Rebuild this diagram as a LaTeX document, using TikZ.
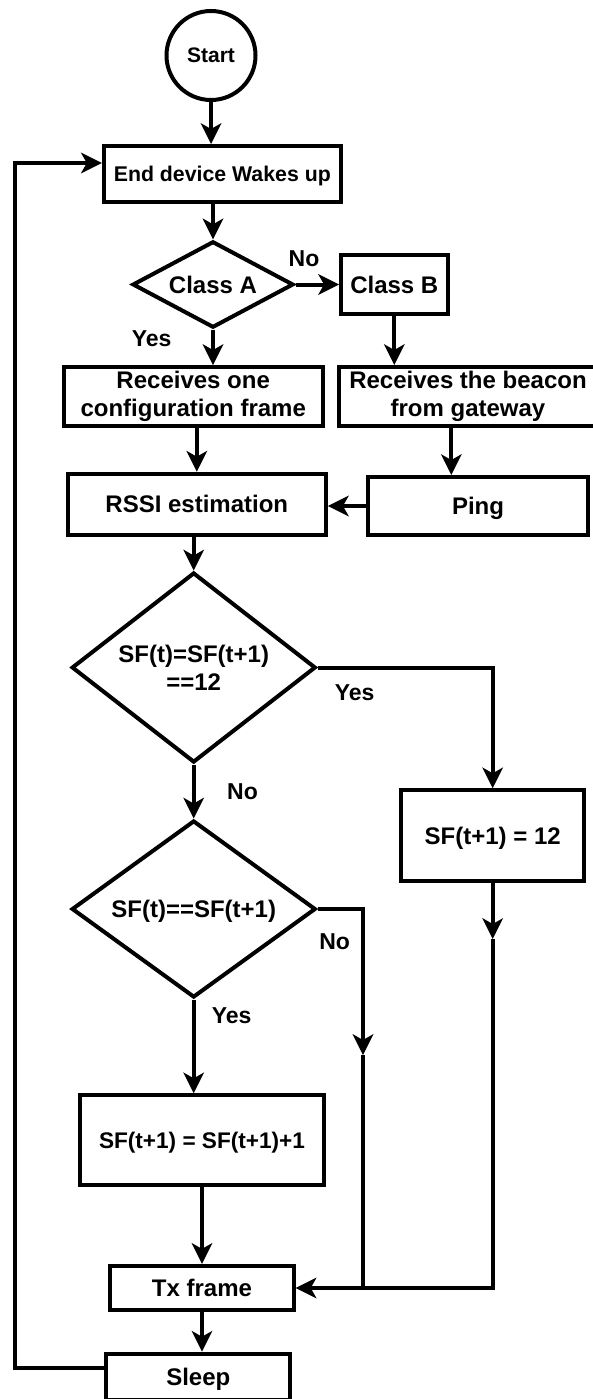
\documentclass[tikz,border=0pt]{standalone}
\usepackage{fontspec}
\setmainfont{Liberation Sans}
\usetikzlibrary{arrows.meta,shapes.geometric}
\newcommand\fsz[2]{\fontsize{#1}{#2}\selectfont\bfseries}
\tikzset{
  base/.style={draw, line width=4pt, align=center, inner sep=0pt, font=\fsz{24}{28}},
  box/.style={base, rectangle},
  dia/.style={base, diamond},
  circ/.style={base, circle},
  one/.style={text height=#1, text depth=0pt},
  arr/.style={line width=4pt, -{Stealth[length=21pt,width=21pt,inset=6pt,line width=0pt]}},
  ln/.style={line width=4pt},
  lbl/.style={font=\fsz{23}{27}, inner sep=0pt, text height=16.5pt, text depth=0pt}
}
\begin{document}
\begin{tikzpicture}[x=1pt,y=-1pt]
\path[use as bounding box, fill=white] (0,0) rectangle (593,1399);

\node[circ, minimum size=89pt, font=\fsz{21}{25}, one=15pt] (start) at (211,55.5) {Start};
\node[box, minimum width=237pt, minimum height=56pt, font=\fsz{21.3}{25}, one=15.3pt] (wake) at (222.3,174) {End device Wakes up};
\node[dia, aspect=1.9, minimum width=161pt, minimum height=86.4pt, one=17.3pt] (classA) at (213,284.5) {Class A};
\node[box, minimum width=106.5pt, minimum height=59pt, one=17.3pt] (classB) at (394.3,284.5) {Class B};
\node[box, minimum width=259pt, minimum height=59.3pt] (recOne) at (193.2,396.7) {Receives one\\configuration frame};
\node[box, minimum width=257.4pt, minimum height=59pt] (recBeacon) at (468,396.5) {Receives the beacon\\from gateway};
\node[box, minimum width=258.3pt, minimum height=61pt, one=17.3pt] (rssi) at (196.8,504.2) {RSSI estimation};
\node[box, minimum width=220pt, minimum height=58pt, one=17.3pt] (ping) at (478,506) {Ping};
\node[dia, aspect=1.3, minimum width=244pt, minimum height=190pt] (d1) at (193.7,667.5) {SF(t)=SF(t+1)\\==12};
\node[dia, aspect=1.38, minimum width=244pt, minimum height=177pt, one=17.3pt] (d2) at (193.7,909) {SF(t)==SF(t+1)};
\node[box, minimum width=183.3pt, minimum height=91pt, one=17.3pt] (sf12) at (492.7,835.8) {SF(t+1) = 12};
\node[box, minimum width=244.6pt, minimum height=90pt, font=\fsz{22.6}{26}, one=16.3pt] (sfinc) at (202,1140.3) {SF(t+1) = SF(t+1)+1};
\node[box, minimum width=183.3pt, minimum height=44.3pt, one=17.3pt] (tx) at (202,1288) {Tx frame};
\node[box, minimum width=184pt, minimum height=46pt, one=17.3pt] (sleep) at (198.3,1376.7) {Sleep};

\node[lbl] (noA) at (304,258) {No};
\node[lbl] (yesA) at (151.7,338) {Yes};
\node[lbl] (yes1) at (354.7,692.5) {Yes};
\node[lbl] (no1) at (242.5,790.8) {No};
\node[lbl] (no2) at (334.7,941) {No};
\node[lbl] (yes2) at (231.7,1015) {Yes};

\draw[arr] (start) -- (start |- wake.north);
\draw[arr] (classA.north |- wake.south) -- (classA.north);
\draw[arr] (classA.east) -- (classB.west);
\draw[arr] (classA.south) -- (classA.south |- recOne.north);
\draw[arr] (classB.south) -- (classB.south |- recBeacon.north);
\draw[arr] (rssi.north |- recOne.south) -- (rssi.north);
\coordinate (bp) at ([xshift=-16.7pt]recBeacon.south);
\draw[arr] (bp) -- (bp |- ping.north);
\draw[arr] (ping.west) -- (ping.west -| rssi.east);
\draw[arr] (d1.north |- rssi.south) -- (d1.north);
\draw[arr] (d1.south) -- (d2.north);
\draw[arr] (d1.east) -| (sf12.north);
\draw[arr] (d2.south) -- (d2.south |- sfinc.north);
\draw[arr] (sfinc.south) -- (tx.north);
\draw[arr] (tx.south) -- (tx.south |- sleep.north);

\coordinate (lp) at (15,163);
\coordinate (sl) at ([yshift=8.4pt]sleep.west);
\draw[arr] (sl) -| (lp) -- (lp -| wake.west);

\coordinate (n2mid) at (363,1055);
\draw[arr] (d2.east) -| (n2mid);
\draw[ln] (n2mid) -- (n2mid |- tx.east);

\coordinate (r12mid) at (492.7,939);
\draw[arr] (sf12.south) -- (r12mid);
\draw[arr] (r12mid) |- (tx.east);
\end{tikzpicture}
\end{document}
